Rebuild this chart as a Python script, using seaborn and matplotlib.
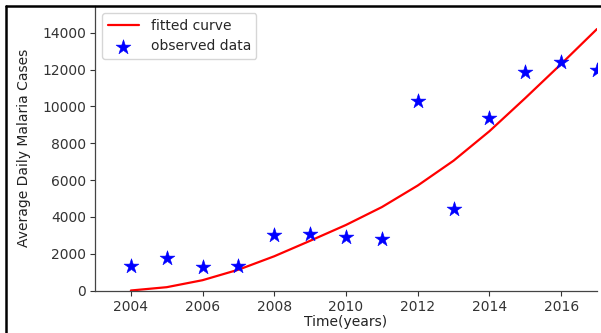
import matplotlib
matplotlib.use("Agg")
import matplotlib.pyplot as plt
from matplotlib.lines import Line2D
import seaborn as sns
import pandas as pd

# observed data
obs_years = [2004, 2005, 2006, 2007, 2008, 2009, 2010, 2011, 2012, 2013, 2014, 2015, 2016, 2017]
obs_cases = [1350, 1750, 1250, 1350, 3000, 3050, 2880, 2820, 10300, 4450, 9350, 11850, 12400, 11950]

# fitted curve
fit_years = [2004, 2005, 2006, 2007, 2008, 2009, 2010, 2011, 2012, 2013, 2014, 2015, 2016, 2017]
fit_cases = [0, 180, 560, 1130, 1860, 2700, 3560, 4530, 5700, 7050, 8650, 10450, 12300, 14200]

x_ticks = [2004, 2006, 2008, 2010, 2012, 2014, 2016]
y_ticks = [0, 2000, 4000, 6000, 8000, 10000, 12000, 14000]

sns.set_style("white")
plt.rcParams['font.family'] = ['DejaVu Sans']

fig = plt.figure(figsize=(6.01, 3.33), dpi=100)
W, H = 601, 333
ax = fig.add_axes([95 / W, 1 - 290.5 / H, (597 - 95) / W, (290.5 - 6) / H])

obs = pd.DataFrame({"year": obs_years, "cases": obs_cases})
fit = pd.DataFrame({"year": fit_years, "cases": fit_cases})

sns.lineplot(data=fit, x="year", y="cases", ax=ax, color="red", lw=1.6,
             label="fitted curve")
sns.scatterplot(data=obs, x="year", y="cases", ax=ax, color="blue", marker="*",
                s=125, edgecolor="blue", linewidth=0.4, label="observed data", zorder=3)

ax.set_xlim(2003, 2017)
ax.set_ylim(0, 15450)
ax.set_xticks(x_ticks)
ax.set_yticks(y_ticks)
ax.tick_params(axis="both", labelsize=10, colors="#333333", length=3.5, width=0.8,
               left=True, bottom=True, pad=3)
for s in ["top", "right"]:
    ax.spines[s].set_visible(False)
for s in ["left", "bottom"]:
    ax.spines[s].set_color("#444444")
    ax.spines[s].set_linewidth(0.9)

ax.set_xlabel("Time(years)", fontsize=10, color="#222222", labelpad=1)
ax.set_ylabel("Average Daily Malaria Cases", fontsize=10, color="#222222", labelpad=8)

leg = ax.legend(loc="upper left", fontsize=10, frameon=True, borderaxespad=0.5,
                handlelength=2.3)
leg.get_frame().set_edgecolor("#cccccc")

# outer border (top and left) of the cropped figure
fig.add_artist(Line2D([5.5 / W, 1], [1 - 6 / H, 1 - 6 / H], transform=fig.transFigure,
                      color="black", lw=1.8))
fig.add_artist(Line2D([5.5 / W, 5.5 / W], [0, 1 - 6 / H], transform=fig.transFigure,
                      color="black", lw=1.8))

fig.savefig("out.png", dpi=100)
